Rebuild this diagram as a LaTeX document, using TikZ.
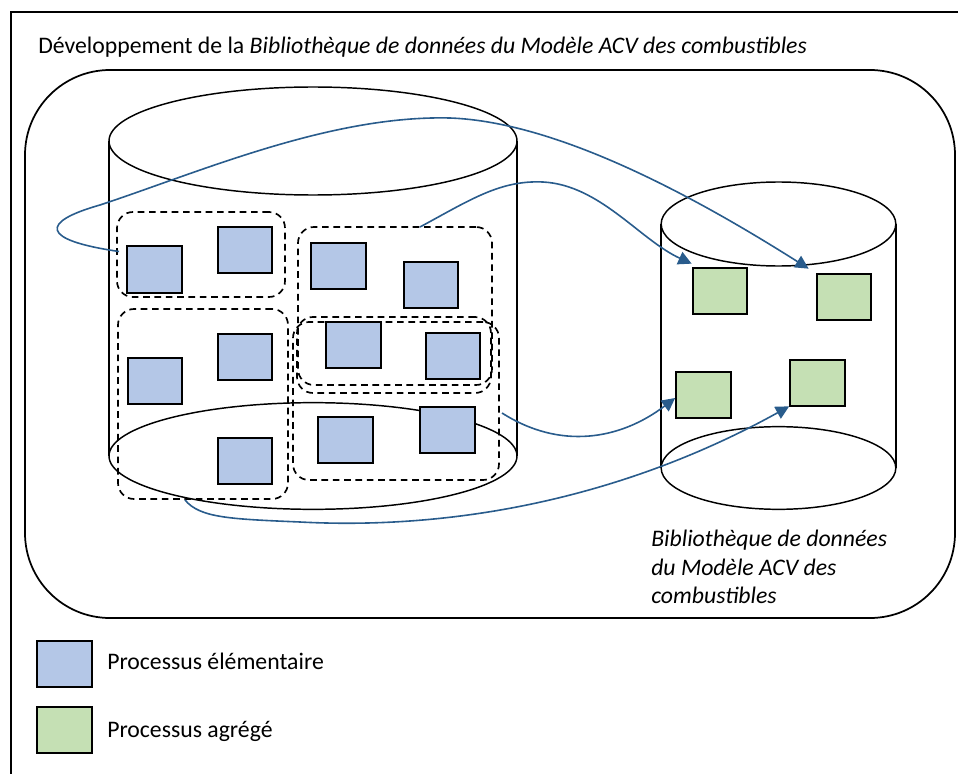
\documentclass[tikz,border=0pt]{standalone}
\usepackage{fontspec}
\setmainfont{Carlito}
\usetikzlibrary{arrows.meta,calc}
\definecolor{bfill}{HTML}{B4C7E7}
\definecolor{gfill}{HTML}{C5E0B4}
\definecolor{arrc}{RGB}{41,92,140}
\tikzset{
  x=0.75pt, y=-0.75pt,
  outl/.style={line width=1.1pt, black},
  bsq/.style={draw=black, line width=1.4pt, fill=bfill, minimum width=41pt, minimum height=35pt, inner sep=0pt, outer sep=0pt},
  gsq/.style={draw=black, line width=1.4pt, fill=gfill, minimum width=41pt, minimum height=35pt, inner sep=0pt, outer sep=0pt},
  grp/.style={draw=black, line width=1.25pt, dash pattern=on 5pt off 3.5pt, rounded corners=12pt, inner sep=0pt, outer sep=0pt},
  arr/.style={draw=arrc, line width=1.2pt, -{Triangle[length=10pt,width=10pt]}},
  txt/.style={font=\fontsize{17.8}{21}\selectfont, inner sep=0pt, anchor=base west},
}
\begin{document}
\begin{tikzpicture}
\useasboundingbox (0,0) rectangle (958,774);
% outer frame
\draw[line width=1.5pt] (11,800) -- (11,12) -- (990,12);
% inner rounded box
\draw[line width=1.3pt, rounded corners=63.75pt] (25,70) rectangle (955,618);
% big cylinder
\draw[outl] (313,141) ellipse [x radius=153pt, y radius=40.5pt];
\draw[outl] (109,141) -- (109,456);
\draw[outl] (517,141) -- (517,456);
\draw[outl] (313,456) ellipse [x radius=153pt, y radius=40pt];
% small cylinder
\draw[outl] (778.5,224) ellipse [x radius=88pt, y radius=31.5pt];
\draw[outl] (661,224) -- (661,468);
\draw[outl] (896,224) -- (896,468);
\draw[outl] (778.5,468) ellipse [x radius=88pt, y radius=31pt];
% dashed groups
\node[grp, minimum width=126pt, minimum height=63.75pt] (grp1) at (201,254.5) {};
\node[grp, minimum width=127.5pt, minimum height=142.5pt] (grp2) at (203,404) {};
\node[grp, minimum width=145.5pt, minimum height=118.5pt] (grp3) at (395,306) {};
\node[grp, minimum width=145.5pt, minimum height=57pt] (grp4) at (394,355) {};
\node[grp, minimum width=154.5pt, minimum height=118.5pt] (grp5) at (396,401) {};
% blue squares
\node[bsq] (b1) at (154.5,269.5) {};
\node[bsq] (b2) at (245,250) {};
\node[bsq] (b3) at (155,381) {};
\node[bsq] (b4) at (245,357) {};
\node[bsq] (b5) at (245,461) {};
\node[bsq] (b6) at (338.5,266) {};
\node[bsq] (b7) at (431,285) {};
\node[bsq] (b8) at (353.5,345) {};
\node[bsq] (b9) at (453,356) {};
\node[bsq] (b10) at (345.5,440) {};
\node[bsq] (b11) at (447.5,430) {};
% green squares
\node[gsq] (g1) at (720,291) {};
\node[gsq] (g2) at (844,297) {};
\node[gsq] (g3) at (703.5,395) {};
\node[gsq] (g4) at (817.5,383) {};
% arrows
\draw[arr] ($(grp1.west)+(2,-3)$) .. controls (40,240) and (40,222) .. (100,205)
  .. controls (200,172) and (330,115) .. (450,118)
  .. controls (560,122) and (700,200) .. ($(g2.north west)+(-8,-5)$);
\draw[arr] ($(grp3.north)+(25,0)$) .. controls (470,200) and (500,180) .. (543,182)
  .. controls (600,185) and (640,240) .. ($(g1.north west)+(-1,-4)$);
\draw[arr] ($(grp5.east)+(3,12)$) .. controls (560,450) and (620,440) .. ($(g3.west)+(-1,3)$);
\draw[arr] ($(grp2.south)+(-18,1)$) .. controls (200,518) and (230,519) .. (300,522)
  .. controls (450,530) and (620,500) .. ($(g4.south west)+(-1,0)$);
% texts
\node[txt] (title) at (38,54) {Développement de la \textit{Bibliothèque de données du Modèle ACV des combustibles}};
\node[txt, font=\fontsize{17.8}{21}\selectfont\itshape] (lib1) at (651,546) {Bibliothèque de données};
\node[txt, font=\fontsize{17.8}{21}\selectfont\itshape] (lib2) at (651,575) {du Modèle ACV des};
\node[txt, font=\fontsize{17.8}{21}\selectfont\itshape] (lib3) at (651,603) {combustibles};
% legend
\node[bsq] (lb) at (64.5,664) {};
\node[gsq] (lg) at (64.5,730) {};
\node[txt] (lbt) at (107,669) {Processus élémentaire};
\node[txt] (lgt) at (107,737) {Processus agrégé};
\end{tikzpicture}
\end{document}
